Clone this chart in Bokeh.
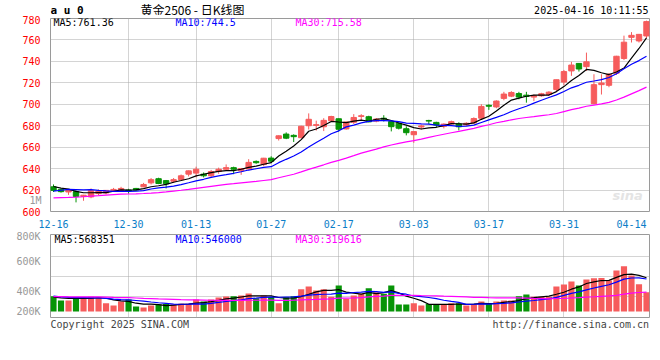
import numpy as np
from bokeh.plotting import figure
from bokeh.layouts import column
from bokeh.models import FixedTicker, Range1d, Label, ColumnDataSource, LinearAxis
from bokeh.core.properties import value
from bokeh.embed import file_html
from bokeh.resources import INLINE

# ---------------- data ----------------
date_labels = ["12-16", "12-30", "01-13", "01-27", "02-17", "03-03", "03-17", "03-31", "04-14"]
date_index = [0, 10, 19, 29, 38, 48, 58, 68, 77]

opens = [623.0, 620.6, 618.2, 618.5, 614.0, 613.6, 616.7, 617.3, 619.7, 619.7,
         620.0, 621.5, 623.0, 626.7, 630.6, 628.8, 628.2, 629.7, 634.8, 635.8,
         634.8, 633.3, 637.3, 639.4, 640.9, 637.9, 639.7, 646.7, 643.8, 649.8,
         668.0, 672.2, 671.0, 668.8, 680.0, 680.3, 679.0, 684.6, 686.5, 677.0,
         683.2, 688.7, 688.4, 684.3, 687.0, 683.9, 682.4, 677.2, 671.6, 678.8,
         684.9, 683.1, 679.4, 681.6, 681.7, 680.8, 682.6, 687.0, 699.0, 697.5,
         705.5, 707.6, 710.0, 708.5, 706.7, 707.9, 709.1, 713.7, 720.7, 731.1,
         738.1, 735.1, 700.6, 718.3, 717.7, 729.0, 742.7, 762.4, 759.1, 763.7]
highs = [625.2, 621.2, 620.6, 619.7, 615.5, 621.5, 620.6, 620.0, 622.0, 623.0,
         621.2, 622.0, 626.7, 631.2, 631.5, 629.4, 631.2, 634.5, 638.2, 641.8,
         636.4, 638.8, 640.9, 643.9, 641.8, 640.6, 648.8, 647.6, 650.0, 651.5,
         671.0, 673.8, 672.0, 680.0, 691.5, 684.7, 687.0, 689.3, 686.8, 683.7,
         690.8, 690.8, 689.3, 687.2, 689.8, 684.6, 683.3, 679.5, 674.6, 681.0,
         685.5, 683.7, 682.2, 684.8, 683.2, 683.2, 687.8, 700.0, 700.0, 703.7,
         711.6, 712.2, 711.6, 711.6, 709.1, 710.7, 712.2, 722.9, 732.0, 739.6,
         738.5, 748.2, 728.0, 728.0, 729.0, 745.2, 764.0, 767.3, 765.6, 778.0]
lows = [618.2, 617.6, 615.5, 608.5, 610.0, 612.4, 615.2, 616.0, 618.5, 619.0,
        616.7, 619.4, 622.7, 625.2, 625.5, 621.5, 626.7, 629.0, 632.7, 631.8,
        631.8, 631.2, 635.2, 639.0, 634.8, 634.2, 639.4, 644.5, 642.4, 645.5,
        666.2, 667.5, 664.8, 668.5, 676.5, 675.5, 675.0, 684.1, 674.5, 676.4,
        681.6, 684.6, 683.2, 683.2, 683.9, 674.7, 676.5, 671.0, 664.0, 676.5,
        681.5, 678.5, 677.5, 681.1, 675.6, 680.0, 681.7, 686.3, 694.8, 696.3,
        703.7, 706.7, 704.6, 701.5, 703.0, 707.0, 707.6, 711.6, 717.7, 726.5,
        730.5, 731.1, 700.0, 709.1, 715.9, 727.4, 741.2, 757.6, 757.6, 761.8]
closes = [619.7, 618.5, 620.0, 614.0, 615.2, 619.7, 619.1, 619.7, 620.6, 621.5,
          619.1, 620.0, 625.2, 629.7, 626.1, 625.8, 629.7, 633.3, 637.9, 639.4,
          633.3, 637.3, 639.4, 640.9, 639.4, 640.0, 645.8, 645.5, 649.7, 646.9,
          670.6, 668.4, 669.8, 679.5, 686.0, 681.0, 685.0, 688.6, 676.7, 683.5,
          687.7, 689.3, 683.6, 686.2, 686.2, 679.1, 677.7, 673.5, 674.5, 679.8,
          684.3, 680.6, 681.5, 683.8, 679.0, 682.3, 686.7, 698.0, 698.2, 703.0,
          709.5, 711.0, 706.7, 707.3, 707.9, 709.8, 711.3, 722.9, 730.5, 736.6,
          732.9, 739.6, 718.3, 719.8, 728.0, 744.8, 757.9, 764.3, 765.2, 777.1]
volumes = [254300, 182400, 182100, 238000, 238500, 244800, 237900, 138200, 99800, 166100,
           199700, 83500, 66200, 99900, 116200, 124800, 116100, 127700, 127900, 199600,
           166300, 199800, 232300, 249600, 254400, 265900, 298600, 220800, 265800, 240100,
           138300, 238100, 254400, 370600, 415700, 348500, 370500, 244800, 432000, 211200,
           265900, 293800, 386900, 320600, 293700, 432100, 116100, 116300, 138200, 99900,
           124800, 110400, 110600, 138100, 138300, 99800, 124700, 166100, 124900, 166000,
           182400, 182300, 254400, 282200, 244800, 244900, 244700, 415700, 448300, 498200,
           432000, 531800, 553900, 554000, 514600, 680600, 752600, 598100, 453100, 320600]

# sessions before the visible window (only used for the moving averages)
prior_close = [612, 615, 608, 604, 602, 606, 603, 607, 611, 614,
               615, 616, 618, 612, 606, 607, 610, 612, 611, 605,
               610, 612, 616, 618, 617, 626, 625, 624, 622]
prior_volume = [230000, 262000, 251000, 228000, 270000, 244000, 219000, 236000, 258000, 241000,
                265000, 233000, 248000, 257000, 239000, 226000, 262000, 244000, 251000, 225000,
                280000, 265000, 290000, 255000, 262000, 240000, 228000, 236000, 226000]

price_ticks = [600, 620, 640, 660, 680, 700, 720, 740, 760, 780]
vol_labels = ["200K", "400K", "600K", "800K"]
price_ma_text = ["MA5:761.36", "MA10:744.5", "MA30:715.58"]
vol_ma_text = ["MA5:568351", "MA10:546000", "MA30:319616"]
title_code = "a u 0"
title_text = "黄金2506 - 日K线图"
stamp_text = "2025-04-16 10:11:55"
footer_left = "Copyright 2025 SINA.COM"
footer_right = "http://finance.sina.com.cn"

# ---------------- helpers ----------------
RED = "#f65c5c"
GREEN = "#079407"
GRID = "#a8a8a8"
BORDER = "#9a9a9a"
MONO = "DejaVu Sans Mono"
MA_COLORS = ["#000000", "#0000ff", "#ff00ff"]
LEFT, RIGHT = 50, 11


def sma(prior, vals, n):
    arr = np.array(list(prior) + list(vals), dtype=float)
    out = np.convolve(arr, np.ones(n) / n, mode="valid")
    return out[-len(vals):]


def strip(height):
    # text-only strip whose frame lines up with the chart frames (x in page pixels)
    f = figure(width=660, height=height, x_range=Range1d(LEFT, 660 - RIGHT),
               y_range=Range1d(0, height),
               output_backend="svg", toolbar_location=None,
               x_axis_location=None, y_axis_location=None,
               min_border_left=LEFT, min_border_right=RIGHT, min_border_top=0, min_border_bottom=0)
    f.outline_line_color = None
    f.grid.visible = False
    return f


idx = list(range(len(closes)))
colors = [RED if c >= o else GREEN for o, c in zip(opens, closes)]
src = ColumnDataSource(dict(
    x=idx,
    top=[max(o, c) for o, c in zip(opens, closes)],
    bottom=[min(o, c) for o, c in zip(opens, closes)],
    high=highs, low=lows, color=colors, vol=volumes,
))

x_rng = Range1d(-0.4, 79.4)

# ---------------- header strip ----------------
hdr = strip(15)
hdr.text(x=[50], y=[5.2], text=[title_code], text_font=value(MONO), text_font_size="11px",
         text_font_style="bold", text_color="#000000", text_baseline="middle")
hdr.text(x=[140], y=[6.2], text=[title_text], text_font=value("Noto Sans CJK SC"),
         text_font_size="12px", text_color="#000000", text_baseline="middle")
hdr.text(x=[648], y=[5.2], text=[stamp_text], text_font=value(MONO), text_font_size="10px",
         text_color="#000000", text_align="right", text_baseline="middle")

# ---------------- price panel ----------------
p = figure(width=660, height=215, x_range=x_rng, y_range=Range1d(600, 780),
           output_backend="svg", toolbar_location=None,
           min_border_left=LEFT, min_border_right=RIGHT, min_border_top=3, min_border_bottom=17)
p.outline_line_color = BORDER
p.background_fill_color = "white"
p.border_fill_color = "white"

p.yaxis.ticker = FixedTicker(ticks=price_ticks)
p.yaxis.major_label_text_color = "#ff0000"
p.yaxis.major_label_text_font = MONO
p.yaxis.major_label_text_font_size = "10px"
p.yaxis.major_label_standoff = 4
p.yaxis.axis_line_color = None
p.yaxis.major_tick_line_color = None
p.yaxis.minor_tick_line_color = None

ax1m = LinearAxis(ticker=FixedTicker(ticks=[610]), major_label_overrides={610: "1M"},
                  major_label_text_color="#999999", major_label_text_font=MONO,
                  major_label_text_font_size="10px", major_label_standoff=-28,
                  axis_line_color=None, major_tick_line_color=None, minor_tick_line_color=None)
p.add_layout(ax1m, "left")

p.xaxis.ticker = FixedTicker(ticks=date_index)
p.xaxis.major_label_overrides = {i: s for i, s in zip(date_index, date_labels)}
p.xaxis.major_label_text_color = "#0b7ec8"
p.xaxis.major_label_text_font = MONO
p.xaxis.major_label_text_font_size = "10px"
p.xaxis.major_label_standoff = 2
p.xaxis.axis_line_color = None
p.xaxis.major_tick_line_color = None
p.xaxis.minor_tick_line_color = None

p.xgrid.ticker = FixedTicker(ticks=date_index[1:-1])
p.ygrid.ticker = FixedTicker(ticks=price_ticks)
for g in (p.xgrid, p.ygrid):
    g.grid_line_color = GRID
    g.grid_line_dash = "1 1"

p.segment(x0="x", y0="low", x1="x", y1="high", color="color", line_width=1, source=src)
p.vbar(x="x", width=0.72, top="top", bottom="bottom", fill_color="color",
       line_color="color", line_width=1, source=src)

for n, col in zip([5, 10, 30], MA_COLORS):
    p.line(idx, sma(prior_close, closes, n), color=col, line_width=1.2)

for txt, xs, col in zip(price_ma_text, [3, 125, 245], MA_COLORS):
    p.add_layout(Label(x=xs, y=189, x_units="screen", y_units="screen", text=txt,
                       text_font=MONO, text_font_size="10px", text_color=col,
                       text_baseline="middle"))
p.add_layout(Label(x=562, y=16, x_units="screen", y_units="screen", text="sina",
                   text_font="DejaVu Sans", text_font_size="13px", text_font_style="bold italic",
                   text_color="#e4e4e4", text_baseline="middle"))

# ---------------- volume panel ----------------
v = figure(width=660, height=89, x_range=x_rng, y_range=Range1d(-99600, 1278000),
           output_backend="svg", toolbar_location=None,
           min_border_left=LEFT, min_border_right=RIGHT, min_border_top=4, min_border_bottom=2)
v.outline_line_color = BORDER
v.xaxis.visible = False
vol_ticks = [0, 332000, 830000, 1270000]
v.yaxis.ticker = FixedTicker(ticks=vol_ticks)
v.yaxis.major_label_overrides = {t: s for t, s in zip(vol_ticks, vol_labels)}
v.yaxis.major_label_text_color = "#999999"
v.yaxis.major_label_text_font = MONO
v.yaxis.major_label_text_font_size = "10px"
v.yaxis.major_label_standoff = 4
v.yaxis.axis_line_color = None
v.yaxis.major_tick_line_color = None
v.yaxis.minor_tick_line_color = None
v.xgrid.ticker = FixedTicker(ticks=date_index[1:-1])
v.ygrid.ticker = FixedTicker(ticks=[254000, 586000, 918000])
for g in (v.xgrid, v.ygrid):
    g.grid_line_color = GRID
    g.grid_line_dash = "1 1"

v.vbar(x="x", width=0.82, top="vol", bottom=0, fill_color="color", line_color=None, source=src)
for n, col in zip([5, 10, 30], MA_COLORS):
    v.line(idx, sma(prior_volume, volumes, n), color=col, line_width=1.2)

for txt, xs, col in zip(vol_ma_text, [4, 125, 245], MA_COLORS):
    v.add_layout(Label(x=xs, y=78, x_units="screen", y_units="screen", text=txt,
                       text_font=MONO, text_font_size="10px", text_color=col,
                       text_baseline="middle"))

# ---------------- footer strip ----------------
ftr = strip(13)
ftr.text(x=[50, 648.5], y=[8, 8], text=[footer_left, footer_right], text_font=value(MONO),
         text_font_size="10px", text_color="#444444",
         text_align=["left", "right"], text_baseline="middle")

layout = column(hdr, p, v, ftr, spacing=0)
open("out.html", "w").write(file_html(layout, INLINE))
